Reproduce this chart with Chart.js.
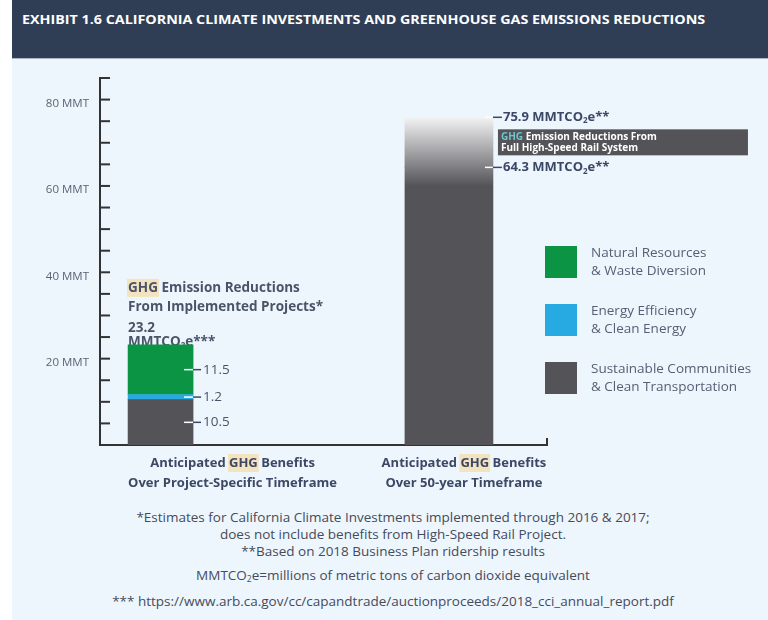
<!DOCTYPE html>
<html>
<head>
<meta charset="utf-8">
<script src="https://cdn.jsdelivr.net/npm/chart.js@4.4.1/dist/chart.umd.min.js"></script>
<style>
  html, body { margin: 0; padding: 0; background: #fff; }
  #wrap { position: relative; width: 768px; height: 620px; overflow: hidden; font-family: 'Open Sans', sans-serif; }
  #header { position: absolute; left: 12px; top: 0; width: 756px; height: 58px; background: #2f3e55; }
  #title { position: absolute; left: 22px; top: 11px; color: #fff; font-weight: 700; font-size: 12.5px; white-space: nowrap; transform-origin: left top; }
  #panel { position: absolute; left: 12px; top: 58px; width: 756px; height: 562px; background: #eef6fd; border-top: 1px solid #aab4c2; }
  .note { position: absolute; left: 0; width: 786px; text-align: center; color: #454b5b; font-size: 13.5px; white-space: nowrap; }
  .note sub { font-size: 8.5px; vertical-align: -2px; }
  canvas { position: absolute; left: 0; top: 0; }
</style>
</head>
<body>
<div id="wrap">
  <div id="header"></div>
  <div id="title">EXHIBIT 1.6 CALIFORNIA CLIMATE INVESTMENTS AND GREENHOUSE GAS EMISSIONS REDUCTIONS</div>
  <div id="panel"></div>
  <div class="note" style="top:508px">*Estimates for California Climate Investments implemented through 2016 &amp; 2017;</div>
  <div class="note" style="top:525px">does not include benefits from High-Speed Rail Project.</div>
  <div class="note" style="top:542px">**Based on 2018 Business Plan ridership results</div>
  <div class="note" style="top:566px">MMTCO<sub>2</sub>e=millions of metric tons of carbon dioxide equivalent</div>
  <div class="note" style="top:592px">*** https://www.arb.ca.gov/cc/capandtrade/auctionproceeds/2018_cci_annual_report.pdf</div>
  <canvas id="chart" width="768" height="620"></canvas>
</div>
<script>
// values in MMTCO2e, one entry per category
const categories = [
  ['Anticipated GHG Benefits', 'Over Project-Specific Timeframe'],
  ['Anticipated GHG Benefits', 'Over 50-year Timeframe']
];
const sustainable = [10.5, 64.3];
const energy = [1.2, null];
const natural = [11.5, null];
const highSpeedRail = [null, 11.6];
const yLabelTicks = [20, 40, 60, 80];

const legendItems = [
  { name: ['Natural Resources', '& Waste Diversion'], color: '#0a9444' },
  { name: ['Energy Efficiency', '& Clean Energy'], color: '#27a9e1' },
  { name: ['Sustainable Communities', '& Clean Transportation'], color: '#545358' }
];

const FONT = "'Open Sans', sans-serif";
const DARK = '#545358';
const barWidths = [65, 88];

// squeeze title to the reference width
const title = document.getElementById('title');
title.style.transform = 'scaleX(' + (683 / title.offsetWidth) + ')';

const railGradient = (ctx) => {
  const chart = ctx.chart;
  if (!chart.chartArea) return DARK;
  const y = chart.scales.y;
  const g = chart.ctx.createLinearGradient(0, y.getPixelForValue(76), 0, y.getPixelForValue(60));
  g.addColorStop(0, '#f4f4f5');
  g.addColorStop(1, DARK);
  return g;
};

const series = [
  { label: 'Sustainable Communities & Clean Transportation', values: sustainable, color: (c) => c === 1 ? railGradient : DARK },
  { label: 'Energy Efficiency & Clean Energy', values: energy, color: () => '#27a9e1' },
  { label: 'Natural Resources & Waste Diversion', values: natural, color: () => '#0a9444' },
  { label: 'Full High-Speed Rail System', values: highSpeedRail, color: () => railGradient }
];

const datasets = [];
categories.forEach((cat, c) => {
  series.forEach(s => {
    if (s.values[c] == null) return;
    datasets.push({
      label: s.label,
      cat: c,
      data: [{ x: c + 1, y: s.values[c] }],
      backgroundColor: s.color(c),
      barThickness: barWidths[c],
      stack: 'all'
    });
  });
});

const total = (c) => series.reduce((a, s) => a + (s.values[c] || 0), 0);

function drawCO2(ctx, x, y, pre, post, size, weight) {
  ctx.font = weight + ' ' + size + 'px ' + FONT;
  ctx.fillText(pre + 'MMTCO', x, y);
  let w = ctx.measureText(pre + 'MMTCO').width;
  ctx.font = weight + ' ' + Math.round(size * 0.62) + 'px ' + FONT;
  ctx.fillText('2', x + w, y + size * 0.3);
  w += ctx.measureText('2').width;
  ctx.font = weight + ' ' + size + 'px ' + FONT;
  ctx.fillText('e' + post, x + w, y);
}

// text with "GHG" on a beige marker
function drawMarked(ctx, text, x, y, align, hl) {
  const parts = text.split('GHG');
  const full = ctx.measureText(text).width;
  let sx = align === 'center' ? x - full / 2 : x;
  ctx.textAlign = 'left';
  if (parts.length > 1) {
    const before = ctx.measureText(parts[0]).width;
    const gw = ctx.measureText('GHG').width;
    const fill = ctx.fillStyle;
    ctx.fillStyle = hl;
    ctx.fillRect(sx + before - 1, y - 9, gw + 2, 18);
    ctx.fillStyle = fill;
  }
  ctx.fillText(text, sx, y);
}

const annotations = {
  id: 'annotations',
  beforeDatasetsDraw(chart) {
    const ctx = chart.ctx;
    const bar = chart.getDatasetMeta(2).data[0];
    const left = bar.x - bar.width / 2;
    const top = bar.y;
    ctx.save();
    ctx.textBaseline = 'middle';
    ctx.fillStyle = '#4a5469';
    ctx.font = '700 13.5px ' + FONT;
    drawMarked(ctx, 'GHG Emission Reductions', left, top - 57, 'left', '#f4e3bf');
    ctx.fillText('From Implemented Projects*', left, top - 38);
    ctx.fillText(total(0).toFixed(1), left, top - 17);
    drawCO2(ctx, left, top - 3, '', '***', 13.5, 700);
    ctx.restore();
  },
  afterDatasetsDraw(chart) {
    const ctx = chart.ctx;
    const y = chart.scales.y;
    const area = chart.chartArea;
    ctx.save();
    // inner tick marks
    ctx.strokeStyle = '#333';
    ctx.lineWidth = 2;
    y.ticks.forEach(t => {
      if (t.value === 0) return;
      const py = y.getPixelForValue(t.value);
      ctx.beginPath(); ctx.moveTo(area.left, py); ctx.lineTo(area.left + 10, py); ctx.stroke();
    });
    ctx.beginPath(); ctx.moveTo(area.right, area.bottom); ctx.lineTo(area.right, area.bottom - 7); ctx.stroke();

    // segment values on the first bar
    ctx.textBaseline = 'middle';
    ctx.textAlign = 'left';
    chart.data.datasets.forEach((ds, i) => {
      if (ds.cat !== 0) return;
      const el = chart.getDatasetMeta(i).data[0];
      const mid = (el.y + el.base) / 2;
      const r = el.x + el.width / 2;
      ctx.lineWidth = 1.5;
      ctx.strokeStyle = '#ffffff';
      ctx.beginPath(); ctx.moveTo(r - 9, mid); ctx.lineTo(r, mid); ctx.stroke();
      ctx.strokeStyle = '#3b4767';
      ctx.beginPath(); ctx.moveTo(r, mid); ctx.lineTo(r + 8, mid); ctx.stroke();
      ctx.fillStyle = '#4a5469';
      ctx.font = '400 13.5px ' + FONT;
      ctx.fillText(ds.data[0].y.toFixed(1), r + 10, mid);
    });

    // second bar: totals
    const b2 = chart.getDatasetMeta(datasets.length - 1).data[0];
    const r2 = b2.x + b2.width / 2;
    const yTop = b2.y;
    const yMid = y.getPixelForValue(sustainable[1]);
    [[yTop, total(1)], [yMid, sustainable[1]]].forEach(([py, v]) => {
      ctx.lineWidth = 1.5;
      ctx.strokeStyle = '#ffffff';
      ctx.beginPath(); ctx.moveTo(r2 - 8, py); ctx.lineTo(r2, py); ctx.stroke();
      ctx.strokeStyle = '#3b4767';
      ctx.beginPath(); ctx.moveTo(r2, py); ctx.lineTo(r2 + 9, py); ctx.stroke();
      ctx.fillStyle = '#3b4767';
      drawCO2(ctx, r2 + 10, py, v.toFixed(1) + ' ', '**', 13, 700);
    });

    // high-speed rail box
    const boxTop = (yTop + yMid) / 2 - 13;
    ctx.fillStyle = DARK;
    ctx.fillRect(r2 + 5, boxTop, 250, 26);
    ctx.font = '700 10px ' + FONT;
    ctx.fillStyle = '#6cc6cb';
    ctx.fillText('GHG', r2 + 8, boxTop + 8);
    const gw = ctx.measureText('GHG ').width;
    ctx.fillStyle = '#ffffff';
    ctx.fillText('Emission Reductions From', r2 + 8 + gw, boxTop + 8);
    ctx.fillText('Full High-Speed Rail System', r2 + 8, boxTop + 19);
    ctx.restore();
  },
  afterDraw(chart) {
    const ctx = chart.ctx;
    const area = chart.chartArea;
    const x = chart.scales.x;
    ctx.save();
    ctx.textBaseline = 'middle';
    // category labels
    const labelDx = [72, 15];
    categories.forEach((lines, c) => {
      const cx = x.getPixelForValue(c + 1) + labelDx[c];
      ctx.fillStyle = '#3d4866';
      ctx.font = '700 13px ' + FONT;
      lines.forEach((t, k) => drawMarked(ctx, t, cx, area.bottom + 18 + k * 20, 'center', '#f4e3bf'));
    });
    // legend
    legendItems.forEach((it, k) => {
      const top = 246 + k * 58;
      ctx.fillStyle = it.color;
      ctx.fillRect(545, top, 32, 32);
      ctx.fillStyle = '#556075';
      ctx.font = '400 13.5px ' + FONT;
      ctx.textAlign = 'left';
      it.name.forEach((t, j) => ctx.fillText(t, 591, top + 7 + j * 18));
    });
    ctx.restore();
  }
};

new Chart(document.getElementById('chart'), {
  type: 'bar',
  data: { datasets },
  options: {
    responsive: false,
    animation: false,
    layout: { padding: { left: 0, top: 78, right: 221, bottom: 175 } },
    plugins: { legend: { display: false }, tooltip: { enabled: false } },
    scales: {
      x: {
        type: 'linear',
        offset: false,
        stacked: true,
        min: 0.79,
        max: 2.34,
        ticks: { display: false },
        grid: { display: false, offset: false },
        border: { color: '#333', width: 2 },
        afterFit: (s) => { s.height = 0; }
      },
      y: {
        stacked: true,
        min: 0,
        max: 85,
        ticks: {
          stepSize: 5,
          padding: 3,
          labelOffset: 4,
          color: '#5b6275',
          font: { family: FONT, size: 11.5 },
          callback: (v) => yLabelTicks.includes(v) ? v + ' MMT' : ''
        },
        grid: { display: false },
        border: { color: '#333', width: 2 },
        afterFit: (s) => { s.width = 100; s.paddingTop = 0; s.paddingBottom = 0; }
      }
    }
  },
  plugins: [annotations]
});
</script>
</body>
</html>
